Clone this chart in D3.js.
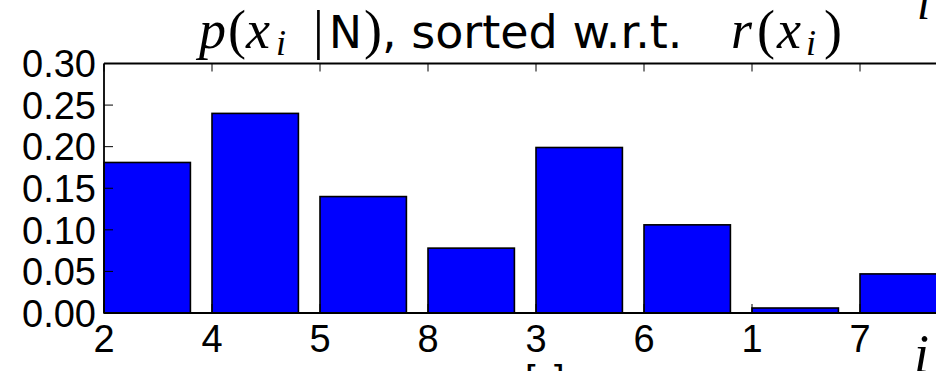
<!DOCTYPE html>
<html>
<head>
<meta charset="utf-8">
<script src="https://cdn.jsdelivr.net/npm/d3@7"></script>
<style>
  html, body { margin: 0; padding: 0; background: #fff; overflow: hidden; }
  svg { display: block; }
</style>
</head>
<body>
<div id="chart"></div>
<script>
// bar order (sorted w.r.t. r(x_i)) and probabilities
const categories = ['2', '4', '5', '8', '3', '6', '1', '7'];
const probs = [0.181, 0.240, 0.140, 0.078, 0.199, 0.106, 0.006, 0.047];
const yTicks = [0.00, 0.05, 0.10, 0.15, 0.20, 0.25, 0.30];

const width = 936;
const height = 371;
const margin = { left: 104, top: 63.5, bottom: 313, right: 968 };

const sans = '"Liberation Sans", Arial, Helvetica, sans-serif';
const titleSans = '"DejaVu Sans", sans-serif';
const serif = '"Liberation Serif", "Times New Roman", serif';
const fs = 38;

const svg = d3
  .select('#chart')
  .append('svg')
  .attr('width', width)
  .attr('height', height);

const x = d3.scaleLinear().domain([0, categories.length]).range([margin.left, margin.right]);
const y = d3.scaleLinear().domain([0, 0.3]).range([margin.bottom, margin.top]);
const barW = 0.8;

// bars (edge aligned, like old matplotlib bar())
svg
  .append('g')
  .selectAll('rect')
  .data(probs)
  .join('rect')
  .attr('x', (d, i) => x(i))
  .attr('width', (d, i) => x(i + barW) - x(i))
  .attr('y', (d) => y(d))
  .attr('height', (d) => y(0) - y(d))
  .attr('fill', '#0000ff')
  .attr('stroke', '#000')
  .attr('stroke-width', 1.6);

// frame
const frame = svg.append('g').attr('stroke', '#000').attr('stroke-width', 1.8);
frame.append('line').attr('x1', x(0)).attr('x2', x(0)).attr('y1', y(0)).attr('y2', y(0.3));
frame.append('line').attr('x1', x(0)).attr('x2', x(8)).attr('y1', y(0)).attr('y2', y(0));
frame.append('line').attr('x1', x(0)).attr('x2', x(8)).attr('y1', y(0.3)).attr('y2', y(0.3));

// ticks pointing inward
const ticks = svg.append('g').attr('stroke', '#000').attr('stroke-width', 1);
ticks
  .selectAll('.yt')
  .data(yTicks)
  .join('line')
  .attr('x1', x(0))
  .attr('x2', x(0) + 9)
  .attr('y1', (d) => y(d))
  .attr('y2', (d) => y(d));
ticks
  .selectAll('.xt')
  .data(categories)
  .join('line')
  .attr('x1', (d, i) => x(i))
  .attr('x2', (d, i) => x(i))
  .attr('y1', y(0.3))
  .attr('y2', y(0.3) + 8);
ticks
  .selectAll('.xb')
  .data(categories)
  .join('line')
  .attr('x1', (d, i) => x(i))
  .attr('x2', (d, i) => x(i))
  .attr('y1', y(0))
  .attr('y2', y(0) - 9);

// tick labels
svg
  .append('g')
  .attr('font-family', sans)
  .attr('font-size', fs)
  .attr('text-anchor', 'end')
  .selectAll('text')
  .data(yTicks)
  .join('text')
  .attr('x', x(0) - 8)
  .attr('y', (d) => y(d))
  .attr('dy', '0.36em')
  .text((d) => d3.format('.2f')(d));

svg
  .append('g')
  .attr('font-family', sans)
  .attr('font-size', fs)
  .attr('text-anchor', 'middle')
  .selectAll('text')
  .data(categories)
  .join('text')
  .attr('x', (d, i) => x(i))
  .attr('y', y(0) + 39)
  .text((d) => d);

// title: p(x_i | N), sorted w.r.t. r(x_i)  -- mathtext pieces laid out by hand
const tb = 48;
const titlePieces = [
  { t: 'p', x: 199, fam: serif, it: true, size: 54 },
  { t: '(', x: 228, fam: serif, size: 54 },
  { t: 'x', x: 246, fam: serif, it: true, size: 54 },
  { t: 'i', x: 276, fam: serif, it: true, size: 36, dy: 7 },
  { t: '|', x: 313, fam: serif, size: 54 },
  { t: 'N', x: 329, fam: titleSans, size: 44 },
  { t: ')', x: 364, fam: serif, size: 54 },
  { t: ', sorted w.r.t.', x: 382, fam: titleSans, size: 46 },
  { t: 'r', x: 731, fam: serif, it: true, size: 54 },
  { t: '(', x: 757, fam: serif, size: 54 },
  { t: 'x', x: 777, fam: serif, it: true, size: 54 },
  { t: 'i', x: 806, fam: serif, it: true, size: 36, dy: 7 },
  { t: ')', x: 824, fam: serif, size: 54 },
];
svg
  .append('g')
  .selectAll('text')
  .data(titlePieces)
  .join('text')
  .attr('x', (d) => d.x)
  .attr('y', (d) => tb + (d.dy || 0))
  .attr('font-family', (d) => d.fam)
  .attr('font-style', (d) => (d.it ? 'italic' : 'normal'))
  .attr('font-size', (d) => d.size)
  .style('white-space', 'pre')
  .text((d) => d.t);

// x label at the right end
svg
  .append('text')
  .attr('x', 914)
  .attr('y', 372)
  .attr('font-family', serif)
  .attr('font-style', 'italic')
  .attr('font-size', 54)
  .text('i');

// pieces of neighbouring labels cut off by the image edges
svg
  .append('text')
  .attr('x', 917)
  .attr('y', 19)
  .attr('font-family', serif)
  .attr('font-style', 'italic')
  .attr('font-size', 48)
  .text('l');
svg
  .append('g')
  .attr('font-family', sans)
  .attr('font-size', 38)
  .selectAll('text')
  .data(['[', ']'])
  .join('text')
  .attr('x', (d, i) => 525 + i * 29)
  .attr('y', 392)
  .text((d) => d);
</script>
</body>
</html>
